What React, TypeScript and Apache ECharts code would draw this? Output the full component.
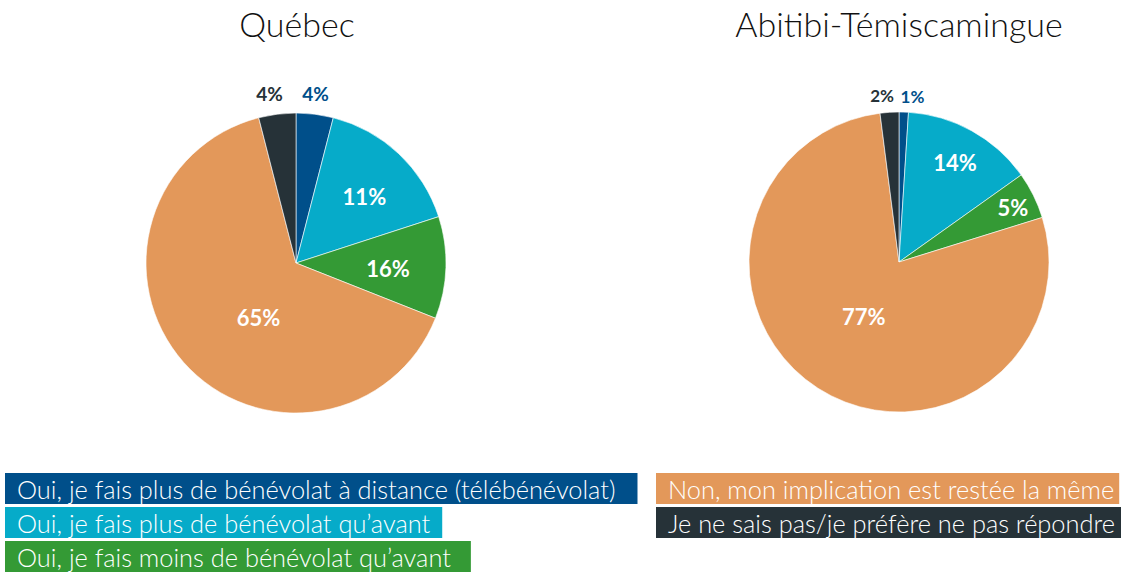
import React, { useEffect, useRef } from "react";
import * as echarts from "echarts";

// Categories (legend order)
const categories = [
  "Oui, je fais plus de bénévolat à distance (télébénévolat)",
  "Oui, je fais plus de bénévolat qu’avant",
  "Oui, je fais moins de bénévolat qu’avant",
  "Non, mon implication est restée la même",
  "Je ne sais pas/je préfère ne pas répondre",
];
const colors = ["#004f8a", "#06abc9", "#349a35", "#e3985a", "#263238"];

// Québec: slice sizes as drawn, and the label texts printed on them
const quebecValues = [4, 16, 11, 65, 4];
const quebecLabels = ["4%", "11%", "16%", "65%", "4%"];

// Abitibi-Témiscamingue
const abitibiValues = [1, 14, 5, 77, 2];
const abitibiLabels = ["1%", "14%", "5%", "77%", "2%"];

const titles = ["Québec", "Abitibi-Témiscamingue"];

// which slices carry their label outside the pie
const outsideIdx = [0, 4];

// small label nudges (px)
const quebecInnerNudge: Record<number, number[]> = { 1: [15, -10], 2: [14, 3], 3: [21, 3] };
const abitibiInnerNudge: Record<number, number[]> = { 1: [18, -31], 2: [44, -20], 3: [7, -11] };
const quebecOuterNudge: Record<number, number[]> = { 0: [-2, 0], 4: [-5, 0] };
const abitibiOuterNudge: Record<number, number[]> = { 0: [8, 5], 4: [-6, 4] };

// legend box right paddings
const legendRightPad = [22, 12, 20, 5, 6];

const FONT = "Lato, 'Noto Sans', sans-serif";

function mainSeries(values: number[], labels: string[], center: number[], nudge: Record<number, number[]>) {
  return {
    type: "pie",
    radius: [0, 150],
    center,
    startAngle: 90,
    clockwise: true,
    silent: true,
    labelLine: { show: false },
    itemStyle: { borderColor: "#ffffff", borderWidth: 0.6 },
    data: values.map((v, i) => ({
      name: categories[i],
      value: v,
      itemStyle: { color: colors[i] },
      label: {
        show: !outsideIdx.includes(i),
        position: "inside",
        formatter: labels[i],
        color: "#ffffff",
        fontFamily: FONT,
        fontWeight: "bold",
        fontSize: 22,
        offset: nudge[i] || [0, 0],
      },
    })),
  };
}

function ghostSeries(values: number[], labels: string[], center: number[], nudge: Record<number, number[]>, fontSize: number) {
  return {
    type: "pie",
    radius: [150, 186],
    center,
    startAngle: 90,
    clockwise: true,
    silent: true,
    labelLine: { show: false },
    itemStyle: { color: "rgba(0,0,0,0)" },
    data: values.map((v, i) => ({
      name: categories[i],
      value: v,
      itemStyle: { color: "rgba(0,0,0,0)" },
      label: {
        show: outsideIdx.includes(i),
        position: "inside",
        formatter: labels[i],
        color: colors[i],
        fontFamily: FONT,
        fontWeight: "bold",
        fontSize,
        offset: nudge[i] || [0, 0],
      },
    })),
  };
}

function legendItems(idx: number[]) {
  return idx.map((i) => ({
    name: categories[i],
    icon: "none",
    textStyle: {
      color: "#ffffff",
      backgroundColor: colors[i],
      fontFamily: FONT,
      fontWeight: 300,
      fontSize: 25.4,
      lineHeight: 25,
      padding: [3, legendRightPad[i], 3, 12],
    },
  }));
}

export default function App() {
  const ref = useRef<HTMLDivElement>(null);
  useEffect(() => {
    if (!ref.current) return;
    const chart = echarts.init(ref.current, null, { renderer: "svg" });
    const legendCommon = {
      orient: "vertical",
      top: 473,
      height: 120,
      padding: 0,
      itemGap: 3,
      itemWidth: 0,
      itemHeight: 0,
      selectedMode: false,
      icon: "none",
    };
    const titleStyle = { fontFamily: FONT, fontWeight: 300, fontSize: 34, color: "#111111" };
    chart.setOption({
      animation: false,
      backgroundColor: "#ffffff",
      title: [
        { text: titles[0], left: 297, top: 6, padding: 0, textAlign: "center", textStyle: titleStyle },
        { text: titles[1], left: 899, top: 6, padding: 0, textAlign: "center", textStyle: titleStyle },
      ],
      legend: [
        { ...legendCommon, left: 0, data: legendItems([0, 1, 2]) },
        { ...legendCommon, left: 651, data: legendItems([3, 4]) },
      ],
      series: [
        mainSeries(quebecValues, quebecLabels, [296, 263], quebecInnerNudge),
        ghostSeries(quebecValues, quebecLabels, [296, 263], quebecOuterNudge, 19),
        mainSeries(abitibiValues, abitibiLabels, [899, 262], abitibiInnerNudge),
        ghostSeries(abitibiValues, abitibiLabels, [899, 262], abitibiOuterNudge, 17),
      ],
    });
    return () => chart.dispose();
  }, []);
  return (
    <div
      ref={ref}
      style={{ position: "fixed", left: 0, top: 0, width: 1122, height: 572 }}
    />
  );
}
